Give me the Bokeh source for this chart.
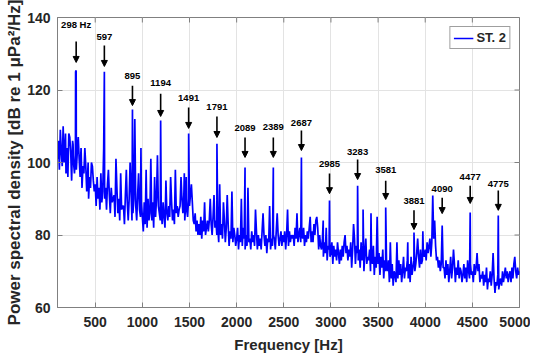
import math
from bokeh.plotting import figure
from bokeh.models import (Arrow, NormalHead, ColumnDataSource, Legend,
                          LegendItem, FixedTicker, Range1d)
from bokeh.core.properties import value
from bokeh.embed import file_html
from bokeh.resources import INLINE

# ---------------- data ----------------
start_hz = 100
step_hz = 10
# noise floor, one row per 100 Hz (values at 10 Hz steps)
floor_db = [
    101, 106, 98, 109, 103, 99, 107, 100, 105, 97,    # 100
    104, 96, 108, 99, 103, 95, 106, 100, 97, 102,     # 200
    98, 103, 94, 101, 96, 104, 93, 99, 97, 95,        # 300
    99, 92, 97, 90, 96, 93, 100, 91, 95, 92,          # 400
    94, 88, 96, 90, 93, 87, 95, 89, 92, 91,           # 500
    90, 93, 87, 94, 88, 91, 86, 93, 89, 90,           # 600
    91, 85, 89, 93, 86, 90, 84, 92, 87, 88,           # 700
    88, 83, 91, 85, 89, 84, 90, 86, 92, 84,           # 800
    86, 90, 82, 88, 84, 91, 83, 87, 85, 89,           # 900
    85, 81, 89, 83, 87, 82, 90, 84, 86, 88,           # 1000
    84, 89, 82, 87, 85, 90, 83, 88, 86, 84,           # 1100
    87, 83, 89, 85, 82, 90, 86, 84, 88, 85,           # 1200
    85, 89, 84, 87, 83, 90, 86, 88, 85, 87,           # 1300
    88, 85, 90, 86, 91, 84, 89, 87, 85, 90,           # 1400
    88, 91, 85, 89, 84, 83, 86, 81, 84, 80,           # 1500
    83, 80, 85, 79, 84, 81, 86, 80, 82, 84,           # 1600
    81, 84, 78, 83, 80, 85, 79, 82, 84, 80,           # 1700
    82, 78, 84, 80, 83, 79, 81, 84, 78, 82,           # 1800
    80, 83, 77, 81, 79, 83, 78, 82, 80, 77,           # 1900
    79, 82, 76, 80, 78, 81, 77, 82, 79, 76,           # 2000
    80, 77, 81, 78, 79, 76, 81, 78, 80, 77,           # 2100
    78, 81, 76, 80, 77, 79, 76, 81, 78, 80,           # 2200
    77, 80, 75, 79, 78, 81, 76, 79, 77, 80,           # 2300
    79, 76, 81, 78, 80, 77, 79, 81, 77, 80,           # 2400
    78, 81, 76, 80, 79, 77, 81, 78, 80, 79,           # 2500
    80, 77, 82, 79, 81, 78, 80, 82, 78, 81,           # 2600
    79, 82, 77, 80, 78, 81, 79, 82, 80, 78,           # 2700
    81, 78, 83, 80, 84, 79, 82, 76, 80, 77,           # 2800
    76, 79, 74, 78, 75, 80, 73, 77, 76, 74,           # 2900
    75, 78, 72, 77, 74, 76, 73, 78, 75, 72,           # 3000
    76, 73, 77, 74, 78, 72, 75, 77, 73, 76,           # 3100
    74, 78, 71, 76, 73, 79, 72, 77, 75, 73,           # 3200
    76, 71, 78, 73, 77, 70, 75, 79, 72, 74,           # 3300
    73, 76, 70, 75, 72, 77, 69, 74, 71, 76,           # 3400
    72, 75, 69, 74, 71, 76, 68, 73, 70, 72,           # 3500
    70, 73, 67, 71, 68, 72, 66, 70, 69, 67,           # 3600
    71, 68, 73, 69, 72, 67, 70, 74, 68, 71,           # 3700
    70, 73, 68, 72, 67, 74, 69, 71, 73, 70,           # 3800
    72, 75, 70, 74, 71, 76, 72, 73, 75, 74,           # 3900
    76, 73, 78, 75, 77, 79, 74, 78, 76, 79,           # 4000
    75, 77, 73, 74, 71, 73, 70, 72, 69, 71,           # 4100
    71, 68, 73, 69, 72, 67, 70, 74, 68, 71,           # 4200
    70, 72, 67, 71, 69, 73, 68, 71, 70, 67,           # 4300
    69, 72, 68, 71, 67, 73, 70, 68, 72, 69,           # 4400
    70, 67, 72, 69, 71, 68, 70, 72, 67, 69,           # 4500
    68, 70, 66, 69, 67, 71, 65, 68, 67, 70,           # 4600
    66, 69, 65, 68, 64, 67, 66, 69, 65, 67,           # 4700
    68, 66, 70, 67, 69, 71, 68, 70, 67, 69,           # 4800
    70, 67, 71, 68, 72, 69, 70, 68, 71, 69,           # 4900
    70,                                               # 5000
]

# smaller unlabelled spikes
spike_hz = [130, 160, 185, 230, 265, 292, 320, 345, 390, 425, 470, 560, 590, 640,
            720, 770, 830, 870, 920, 960, 985, 1040, 1090, 1130, 1160, 1250, 1300,
            1350, 1410, 1445, 1465, 1520, 1660, 1720, 1760, 1820, 1860, 1900, 1950,
            2050, 2120, 2200, 2280, 2350, 2430, 2540, 2640, 2780, 2850, 2918, 2950,
            3150, 3240, 3341, 3425, 3490, 3630, 3700, 3815, 3920, 3975, 4080, 4100,
            4300, 4550, 4720, 4950]
spike_db = [109, 110, 108, 107, 105, 125, 107, 101, 104, 100, 99, 97, 104, 98,
            101, 97, 98, 100, 112, 97, 104, 98, 101, 96, 102, 95, 96,
            98, 96, 97, 96, 94, 89, 90, 91, 94, 89, 91, 92,
            90, 93, 87, 86, 88, 86, 87, 86, 85, 85, 84, 82,
            80, 83, 87, 86, 85, 78, 78, 78, 79, 81, 90.9, 84,
            76, 75, 75, 74]

# labelled harmonic peaks
peak_hz = [298, 597, 895, 1194, 1491, 1791, 2089, 2389, 2687, 2985, 3283, 3581,
           3881, 4180, 4477, 4775]
peak_db = [125.4, 125.0, 114.6, 111.6, 108.0, 105.2, 98.6, 98.6, 101.4, 89.5, 93.6,
           87.6, 80.7, 82.6, 86.2, 85.4]
peak_label = ["298 Hz", "597", "895", "1194", "1491", "1791", "2089", "2389", "2687",
              "2985", "3283", "3581", "3881", "4090", "4477", "4775"]
label_db = [138.1, 134.5, 124.0, 121.8, 117.7, 115.2, 109.4, 109.7, 110.8, 99.7, 103.0,
            97.8, 89.5, 92.8, 95.9, 94.2]
arrow_top_db = [133.4, 132.3, 121.2, 119.0, 115.2, 112.7, 106.9, 106.9, 108.8, 97.0,
                100.8, 95.0, 86.8, 90.3, 93.6, 92.3]
arrow_tip_db = [127.6, 126.5, 115.7, 112.7, 109.4, 106.9, 101.4, 101.4, 103.3, 91.4,
                95.3, 89.8, 81.5, 85.9, 88.7, 86.8]

x_ticks = [500, 1000, 1500, 2000, 2500, 3000, 3500, 4000, 4500, 5000]
y_ticks = [60, 80, 100, 120, 140]
x_min, x_max = 100, 5000
y_min, y_max = 60, 140

# ---------------- build series ----------------
pts = {start_hz + i * step_hz: v for i, v in enumerate(floor_db)}
for f, v in zip(spike_hz, spike_db):
    pts[f] = v
for f, v in zip(peak_hz, peak_db):
    pts[f] = v
freq = sorted(pts)
psd = [pts[f] for f in freq]

# ---------------- figure ----------------
TXT = "#262626"
AX = "#808080"
FONT = "Liberation Sans"

p = figure(width=530, height=356, output_backend="svg", toolbar_location=None,
           x_range=Range1d(x_min, x_max), y_range=Range1d(y_min, y_max),
           min_border_left=57, min_border_right=11, min_border_top=17, min_border_bottom=49)
p.background_fill_color = "white"
p.border_fill_color = "white"
p.outline_line_color = AX
p.outline_line_width = 1

p.xgrid.ticker = FixedTicker(ticks=x_ticks)
p.ygrid.ticker = FixedTicker(ticks=y_ticks)
p.xgrid.grid_line_color = "#e3e3e3"
p.ygrid.grid_line_color = "#e3e3e3"

r = p.line(freq, psd, line_color="#0000ff", line_width=1.7)

# inward tick marks on the top and right edges of the box
p.scatter(x=x_ticks, y=[y_max] * len(x_ticks), marker="dash", size=10, angle=math.pi / 2,
          line_color=AX, line_width=1)
p.scatter(x=[x_max] * len(y_ticks), y=y_ticks, marker="dash", size=10,
          line_color=AX, line_width=1)

src = ColumnDataSource(dict(x=peak_hz, y0=arrow_top_db, y1=arrow_tip_db,
                            ly=label_db, txt=peak_label))
p.add_layout(Arrow(end=NormalHead(size=6, fill_color="black", line_color="black", line_width=1),
                   x_start="x", y_start="y0", x_end="x", y_end="y1",
                   line_color="black", line_width=1.6, source=src))
p.text(x="x", y="ly", text="txt", source=src, text_font=value(FONT), text_font_style="bold",
       text_font_size="9.5px", text_align="center", text_baseline="middle", text_color="black")

# axes
for ax, ticks in ((p.xaxis[0], x_ticks), (p.yaxis[0], y_ticks)):
    ax.ticker = FixedTicker(ticks=ticks)
    ax.major_tick_in = 5
    ax.major_tick_out = 0
    ax.minor_tick_line_color = None
    ax.major_tick_line_color = AX
    ax.axis_line_color = AX
    ax.major_label_text_font = FONT
    ax.major_label_text_font_style = "bold"
    ax.major_label_text_font_size = "14px"
    ax.major_label_text_color = TXT
    ax.axis_label_text_font = FONT
    ax.axis_label_text_font_style = "bold"
    ax.axis_label_text_color = TXT

p.xaxis.axis_label = "Frequency [Hz]"
p.xaxis.axis_label_text_font_size = "15px"
p.xaxis.major_label_standoff = 9
p.xaxis.axis_label_standoff = 6
p.yaxis.axis_label = "Power spectral density [dB re 1 \u03bcPa\u00b2/Hz]"
p.yaxis.axis_label_text_font_size = "17px"
p.yaxis.major_label_standoff = 7
p.yaxis.axis_label_standoff = 0

legend = Legend(items=[LegendItem(label="ST. 2", renderers=[r])], location="top_right")
legend.label_text_font = FONT
legend.label_text_font_style = "bold"
legend.label_text_font_size = "13px"
legend.label_text_color = TXT
legend.glyph_width = 20
legend.glyph_height = 14
legend.label_height = 14
legend.label_standoff = 3
legend.padding = 3
legend.spacing = 0
legend.margin = 9
legend.border_line_color = "#404040"
legend.border_line_width = 1
p.add_layout(legend)

open("out.html", "w").write(file_html(p, INLINE))
